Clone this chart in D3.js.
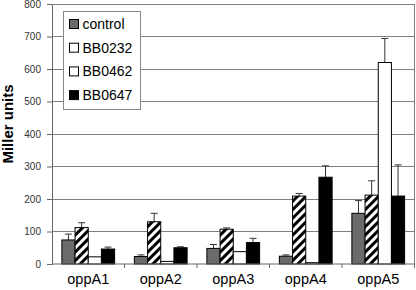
<!DOCTYPE html>
<html>
<head>
<meta charset="utf-8">
<script src="https://cdn.jsdelivr.net/npm/d3@7"></script>
<style>
  body { margin: 0; background: #fff; }
  svg { display: block; font-family: "Liberation Sans", Arial, sans-serif; }
</style>
</head>
<body>
<div class="canvas"></div>
<script>
// data
const categories = ['oppA1', 'oppA2', 'oppA3', 'oppA4', 'oppA5'];
const series = ['control', 'BB0232', 'BB0462', 'BB0647'];
const control = [74, 23, 48, 24, 156];
const controlErr = [92, 28, 60, 28, 195];
const bb0232 = [112, 130, 107, 209, 212];
const bb0232Err = [127, 156, 111, 217, 256];
const bb0462 = [22, 8, 38, 4, 620];
const bb0462Err = [23, 9, 39, 5, 694];
const bb0647 = [46, 50, 66, 267, 209];
const bb0647Err = [52, 53, 79, 302, 305];
const yTicks = [0, 100, 200, 300, 400, 500, 600, 700, 800];

const values = [control, bb0232, bb0462, bb0647];
const errs = [controlErr, bb0232Err, bb0462Err, bb0647Err];

const width = 416, height = 290;
const margin = { top: 4, right: 1.5, bottom: 26, left: 52 };
const graphWidth = width - margin.left - margin.right;
const graphHeight = height - margin.top - margin.bottom;

const svg = d3.select('.canvas').append('svg')
    .attr('width', width)
    .attr('height', height);

// hatch for BB0232
const defs = svg.append('defs');
defs.append('pattern')
    .attr('id', 'hatch')
    .attr('patternUnits', 'userSpaceOnUse')
    .attr('width', 6).attr('height', 6)
    .attr('patternTransform', 'rotate(45)')
  .call(p => {
    p.append('rect').attr('width', 6).attr('height', 6).attr('fill', '#fff');
    p.append('rect').attr('width', 3).attr('height', 6).attr('fill', '#000');
  });

const fills = { control: '#6b6b6b', BB0232: 'url(#hatch)', BB0462: '#fff', BB0647: '#000' };
const legendFills = { control: '#6b6b6b', BB0232: '#fff', BB0462: '#fff', BB0647: '#000' };

const graph = svg.append('g')
    .attr('transform', `translate(${margin.left}, ${margin.top})`);

// scales
const x = d3.scaleBand().domain(categories).range([0, graphWidth]);
const xs = d3.scaleBand().domain(series).range([0, x.bandwidth()])
    .paddingInner(0).paddingOuter(0.75);
const y = d3.scaleLinear().domain([0, 800]).range([graphHeight, 0]);

// gridlines
graph.append('g')
  .selectAll('line')
  .data(yTicks.slice(1))
  .enter().append('line')
    .attr('x1', 0).attr('x2', graphWidth)
    .attr('y1', d => y(d)).attr('y2', d => y(d))
    .attr('stroke', '#808080').attr('stroke-width', 1)
    .attr('shape-rendering', 'crispEdges');

// right border
graph.append('line')
    .attr('x1', graphWidth).attr('x2', graphWidth)
    .attr('y1', 0).attr('y2', graphHeight)
    .attr('stroke', '#808080')
    .attr('shape-rendering', 'crispEdges');

// bars
const rows = [];
categories.forEach((c, i) => {
  series.forEach((s, j) => {
    rows.push({ cat: c, s: s, v: values[j][i], e: errs[j][i] });
  });
});

const bars = graph.append('g').selectAll('g')
    .data(rows)
    .enter().append('g')
    .attr('transform', d => `translate(${x(d.cat) + xs(d.s)},0)`);

// error bars (upper only)
bars.append('line')
    .attr('x1', xs.bandwidth() / 2).attr('x2', xs.bandwidth() / 2)
    .attr('y1', d => y(d.v)).attr('y2', d => y(d.e))
    .attr('stroke', '#333');
bars.filter(d => d.e - d.v > 2).append('line')
    .attr('x1', xs.bandwidth() / 2 - 3.5).attr('x2', xs.bandwidth() / 2 + 3.5)
    .attr('y1', d => y(d.e)).attr('y2', d => y(d.e))
    .attr('stroke', '#333');

bars.append('rect')
    .attr('y', d => y(d.v))
    .attr('width', xs.bandwidth())
    .attr('height', d => graphHeight - y(d.v))
    .attr('fill', d => fills[d.s])
    .attr('stroke', '#000')
    .attr('stroke-width', 1);

// axes
const yAxis = d3.axisLeft(y).tickValues(yTicks).tickSize(5).tickPadding(6);
const yAxisGroup = graph.append('g').call(yAxis);
yAxisGroup.select('.domain').attr('stroke', '#666');
yAxisGroup.selectAll('.tick line').attr('stroke', '#666');
yAxisGroup.selectAll('text')
    .attr('font-size', 10)
    .attr('fill', '#333')
    .attr('font-family', '"Liberation Sans", Arial, sans-serif');

// top border
graph.append('line')
    .attr('x1', 0).attr('x2', graphWidth)
    .attr('y1', 0).attr('y2', 0)
    .attr('stroke', '#808080')
    .attr('shape-rendering', 'crispEdges');

const xAxisGroup = graph.append('g')
    .attr('transform', `translate(0,${graphHeight})`);
xAxisGroup.append('line')
    .attr('x1', 0).attr('x2', graphWidth)
    .attr('stroke', '#666');
xAxisGroup.selectAll('.tk')
    .data(categories)
    .enter().append('line')
    .attr('x1', d => x(d) + x.bandwidth()).attr('x2', d => x(d) + x.bandwidth())
    .attr('y1', 0).attr('y2', 4)
    .attr('stroke', '#666');
xAxisGroup.selectAll('text')
    .data(categories)
    .enter().append('text')
    .attr('x', d => x(d) + x.bandwidth() / 2)
    .attr('y', 20)
    .attr('text-anchor', 'middle')
    .attr('font-size', 14.5)
    .attr('fill', '#000')
    .text(d => d);

// y label
svg.append('text')
    .attr('transform', 'translate(13,124) rotate(-90)')
    .attr('text-anchor', 'middle')
    .attr('font-size', 15)
    .attr('font-weight', 'bold')
    .text('Miller units');

// legend
const legend = svg.append('g').attr('transform', 'translate(63,11)');
legend.append('rect')
    .attr('x', 0.5).attr('y', 0.5)
    .attr('width', 77).attr('height', 98)
    .attr('fill', '#fff')
    .attr('stroke', '#888');
const items = legend.selectAll('.item')
    .data(series)
    .enter().append('g')
    .attr('transform', (d, i) => `translate(0,${18 + i * 23.7})`);
items.append('rect')
    .attr('x', 6.5).attr('y', -9.5)
    .attr('width', 9).attr('height', 9)
    .attr('fill', d => legendFills[d])
    .attr('stroke', '#000');
items.append('text')
    .attr('x', 19.5)
    .attr('y', 0)
    .attr('font-size', 14)
    .text(d => d);
</script>
</body>
</html>
